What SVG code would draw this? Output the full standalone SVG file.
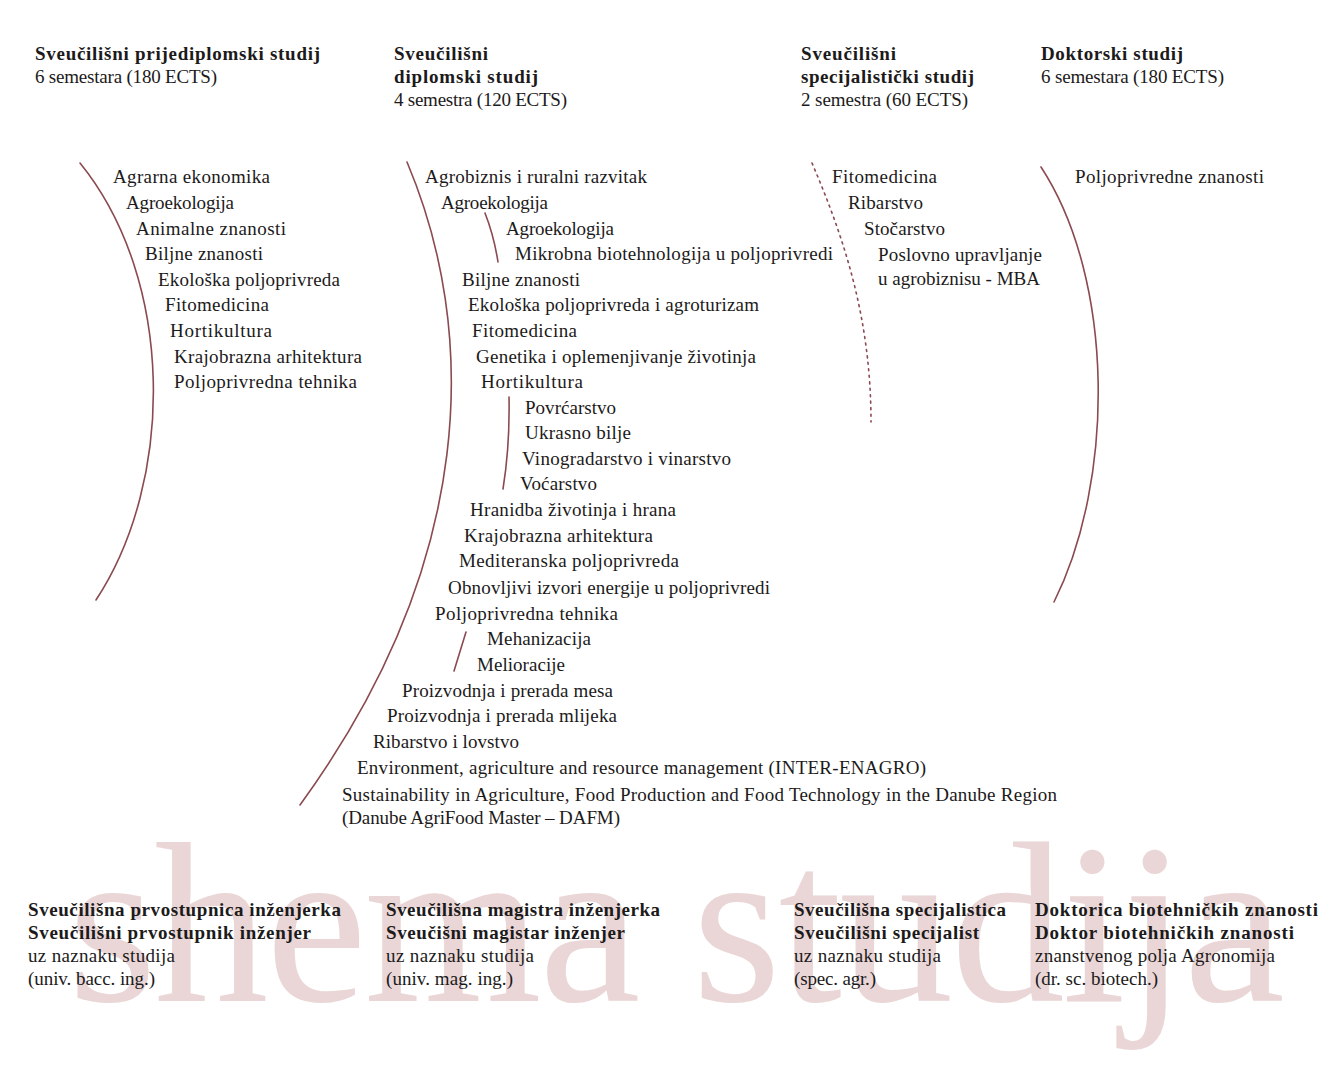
<svg xmlns="http://www.w3.org/2000/svg" width="1343" height="1065" viewBox="0 0 1343 1065">
<style>
text{font-family:"Liberation Serif","Times New Roman",serif;font-size:19px;fill:#1c1a1a}
.b{font-weight:bold}
.wm{font-size:228px;fill:#ead6d6}
.arc{fill:none;stroke:#8a4a50;stroke-width:1.6;stroke-linecap:round}
.dot{stroke-dasharray:2 4.5}
</style>
<rect width="1343" height="1065" fill="#ffffff"/>
<text class="wm" x="68" y="1001" textLength="1217">shema studija</text>

<g id="connectors">
<path class="arc" d="M80,163 C175,280 175,480 96,600"/>
<path class="arc" d="M407,162 C478,330 478,560 300,805"/>
<path class="arc" d="M485,213 Q494,236 498,262"/>
<path class="arc" d="M509,397 Q510,445 503,489"/>
<path class="arc" d="M466,632 L454,671"/>
<path class="arc dot" d="M812,163 C845,240 871,320 871,422"/>
<path class="arc" d="M1041,167 C1115,280 1115,480 1054,602"/>
</g>

<g id="head-undergrad">
<text class="b" x="35" y="60" textLength="285">Sveučilišni prijediplomski  studij</text>
<text x="35" y="83" textLength="182">6 semestara (180 ECTS)</text>
</g>
<g id="head-graduate">
<text class="b" x="394" y="60" textLength="94">Sveučilišni</text>
<text class="b" x="394" y="83" textLength="144">diplomski studij</text>
<text x="394" y="106" textLength="173">4 semestra (120 ECTS)</text>
</g>
<g id="head-specialist">
<text class="b" x="801" y="60" textLength="95">Sveučilišni</text>
<text class="b" x="801" y="83" textLength="173">specijalistički studij</text>
<text x="801" y="106" textLength="167">2 semestra (60 ECTS)</text>
</g>
<g id="head-doctoral">
<text class="b" x="1041" y="60" textLength="142">Doktorski studij</text>
<text x="1041" y="83" textLength="183">6 semestara (180 ECTS)</text>
</g>

<g id="list-undergrad">
<text x="113" y="183" textLength="157">Agrarna ekonomika</text>
<text x="126" y="209" textLength="108">Agroekologija</text>
<text x="136" y="235" textLength="150">Animalne znanosti</text>
<text x="145" y="260" textLength="118">Biljne znanosti</text>
<text x="158" y="286" textLength="182">Ekološka poljoprivreda</text>
<text x="165" y="311" textLength="104">Fitomedicina</text>
<text x="170" y="337" textLength="102">Hortikultura</text>
<text x="174" y="363" textLength="188">Krajobrazna arhitektura</text>
<text x="174" y="388" textLength="183">Poljoprivredna tehnika</text>
</g>

<g id="list-graduate">
<text x="425" y="183" textLength="222">Agrobiznis i ruralni razvitak</text>
<text x="441" y="209" textLength="107">Agroekologija</text>
<text x="506" y="235" textLength="108">Agroekologija</text>
<text x="515" y="260" textLength="318">Mikrobna biotehnologija u poljoprivredi</text>
<text x="462" y="286" textLength="118">Biljne znanosti</text>
<text x="468" y="311" textLength="291">Ekološka poljoprivreda i agroturizam</text>
<text x="472" y="337" textLength="105">Fitomedicina</text>
<text x="476" y="363" textLength="280">Genetika i oplemenjivanje životinja</text>
<text x="481" y="388" textLength="102">Hortikultura</text>
<text x="525" y="414" textLength="91">Povrćarstvo</text>
<text x="525" y="439" textLength="106">Ukrasno bilje</text>
<text x="522" y="465" textLength="209">Vinogradarstvo i vinarstvo</text>
<text x="520" y="490" textLength="77">Voćarstvo</text>
<text x="470" y="516" textLength="206">Hranidba životinja i hrana</text>
<text x="464" y="542" textLength="189">Krajobrazna arhitektura</text>
<text x="459" y="567" textLength="220">Mediteranska poljoprivreda</text>
<text x="448" y="594" textLength="322">Obnovljivi izvori energije u poljoprivredi</text>
<text x="435" y="620" textLength="183">Poljoprivredna tehnika</text>
<text x="487" y="645" textLength="104">Mehanizacija</text>
<text x="477" y="671" textLength="88">Melioracije</text>
<text x="402" y="697" textLength="211">Proizvodnja i prerada mesa</text>
<text x="387" y="722" textLength="230">Proizvodnja i prerada mlijeka</text>
<text x="373" y="748" textLength="146">Ribarstvo i lovstvo</text>
<text x="357" y="774" textLength="569">Environment, agriculture and resource management (INTER-ENAGRO)</text>
<text x="342" y="801" textLength="715">Sustainability in Agriculture, Food Production and Food Technology in the Danube Region</text>
<text x="342" y="824" textLength="278">(Danube AgriFood Master – DAFM)</text>
</g>

<g id="list-specialist">
<text x="832" y="183" textLength="105">Fitomedicina</text>
<text x="848" y="209" textLength="75">Ribarstvo</text>
<text x="864" y="235" textLength="81">Stočarstvo</text>
<text x="878" y="261" textLength="164">Poslovno upravljanje</text>
<text x="878" y="285" textLength="162">u agrobiznisu - MBA</text>
</g>

<g id="list-doctoral">
<text x="1075" y="183" textLength="189">Poljoprivredne znanosti</text>
</g>

<g id="degree-undergrad">
<text class="b" x="28" y="916" textLength="313">Sveučilišna prvostupnica inženjerka</text>
<text class="b" x="28" y="939" textLength="283">Sveučilišni prvostupnik inženjer</text>
<text x="28" y="962" textLength="147">uz naznaku studija</text>
<text x="28" y="985" textLength="127">(univ. bacc. ing.)</text>
</g>
<g id="degree-graduate">
<text class="b" x="386" y="916" textLength="274">Sveučilišna magistra inženjerka</text>
<text class="b" x="386" y="939" textLength="239">Sveučišni magistar inženjer</text>
<text x="386" y="962" textLength="148">uz naznaku studija</text>
<text x="386" y="985" textLength="127">(univ. mag. ing.)</text>
</g>
<g id="degree-specialist">
<text class="b" x="794" y="916" textLength="212">Sveučilišna specijalistica</text>
<text class="b" x="794" y="939" textLength="185">Sveučilišni specijalist</text>
<text x="794" y="962" textLength="147">uz naznaku studija</text>
<text x="794" y="985" textLength="82">(spec. agr.)</text>
</g>
<g id="degree-doctoral">
<text class="b" x="1035" y="916" textLength="283">Doktorica biotehničkih znanosti</text>
<text class="b" x="1035" y="939" textLength="259">Doktor biotehničkih znanosti</text>
<text x="1035" y="962" textLength="240">znanstvenog polja Agronomija</text>
<text x="1035" y="985" textLength="123">(dr. sc. biotech.)</text>
</g>
</svg>
